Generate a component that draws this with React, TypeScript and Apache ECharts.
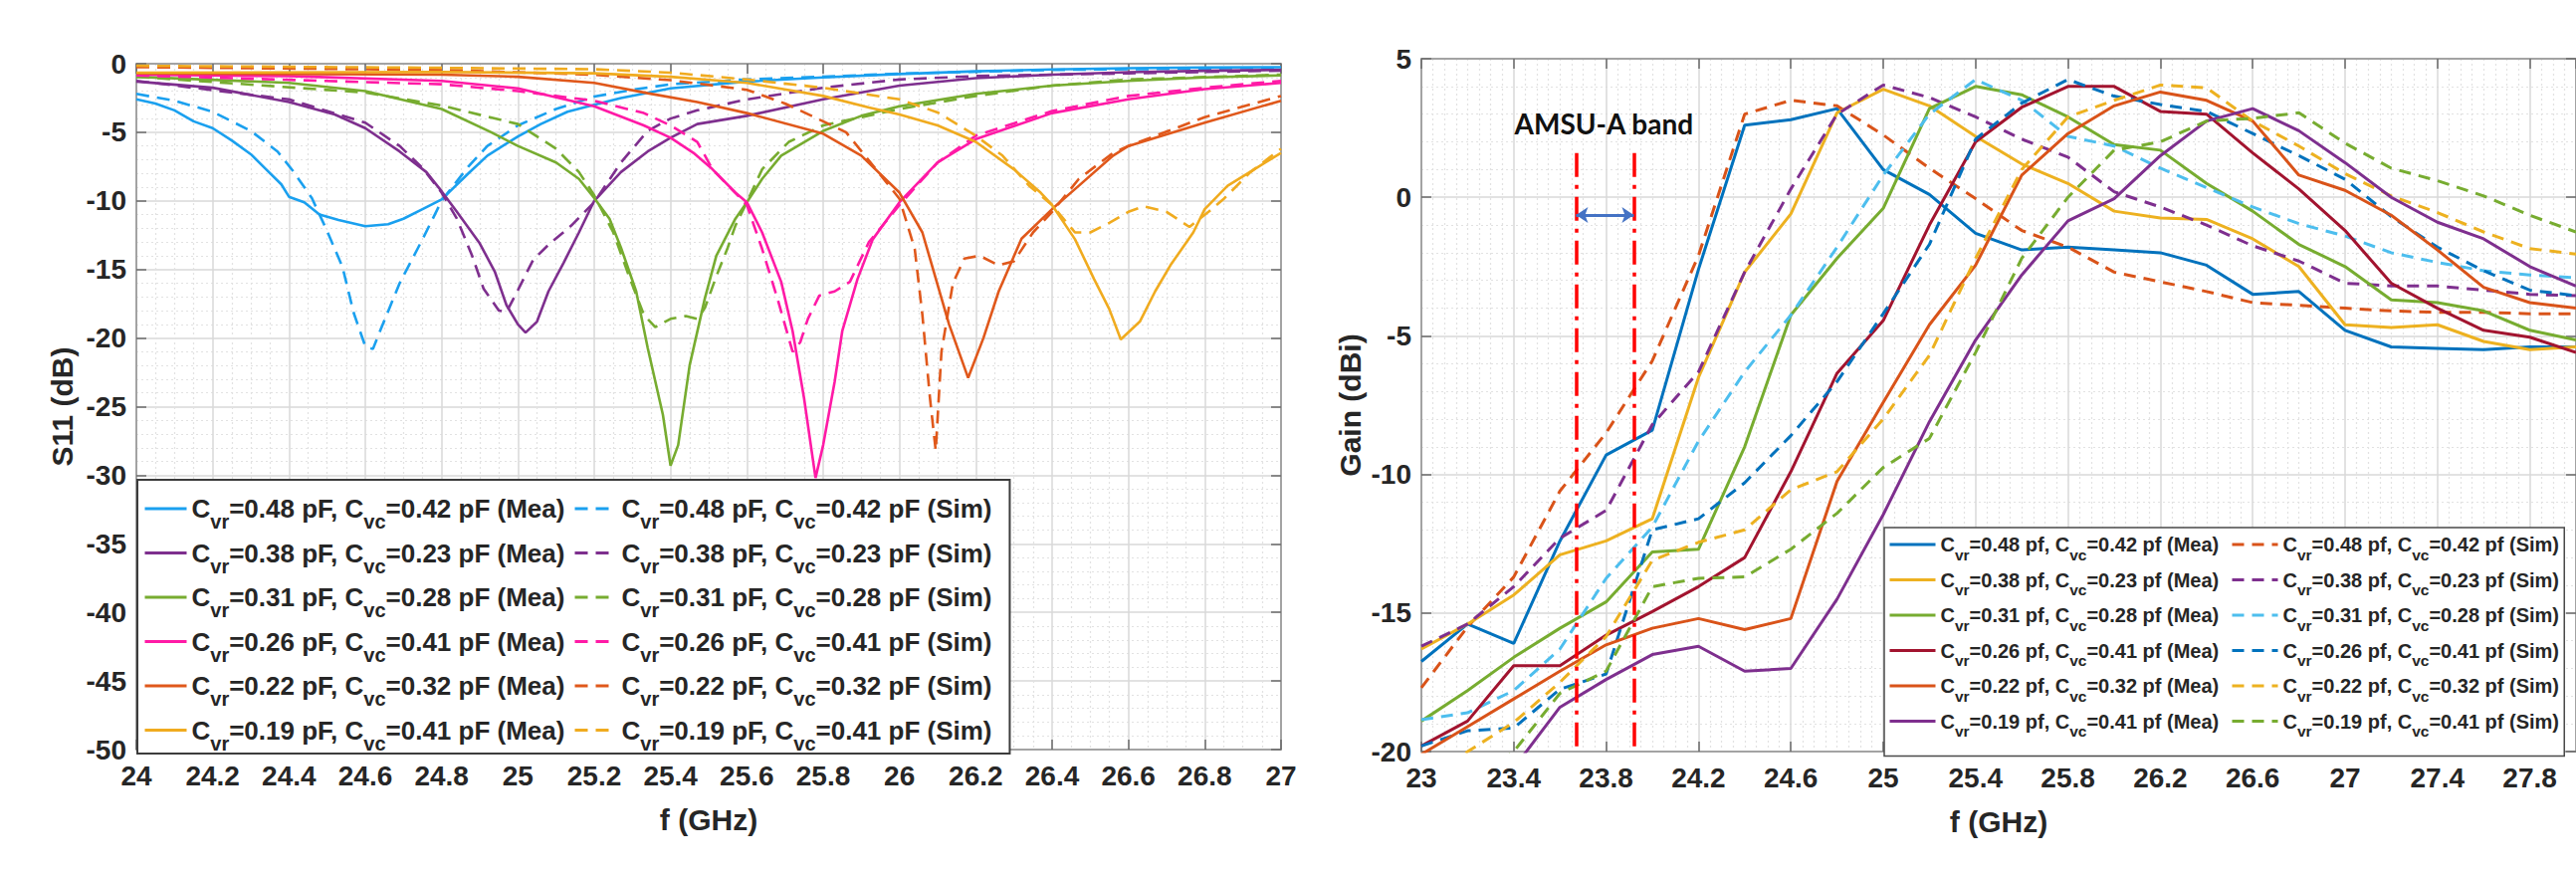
import React, { useEffect, useRef } from 'react';
import * as echarts from 'echarts';

const FONT = "'Liberation Sans', Arial, Helvetica, sans-serif";
const TXT = '#262626';

// ---------------- S11 chart (left) ----------------
const s11Names = [
  'Cvr=0.48 pF, Cvc=0.42 pF (Mea)', 'Cvr=0.48 pF, Cvc=0.42 pF (Sim)',
  'Cvr=0.38 pF, Cvc=0.23 pF (Mea)', 'Cvr=0.38 pF, Cvc=0.23 pF (Sim)',
  'Cvr=0.31 pF, Cvc=0.28 pF (Mea)', 'Cvr=0.31 pF, Cvc=0.28 pF (Sim)',
  'Cvr=0.26 pF, Cvc=0.41 pF (Mea)', 'Cvr=0.26 pF, Cvc=0.41 pF (Sim)',
  'Cvr=0.22 pF, Cvc=0.32 pF (Mea)', 'Cvr=0.22 pF, Cvc=0.32 pF (Sim)',
  'Cvr=0.19 pF, Cvc=0.41 pF (Mea)', 'Cvr=0.19 pF, Cvc=0.41 pF (Sim)',
];
const s11Colors = ['#1aa0ef', '#7e2f8e', '#77ac30', '#ff1aa6', '#e0581b', '#f0ab1f'];

const s11Mea048 = [[24.0,-2.6],[24.05,-2.9],[24.1,-3.4],[24.15,-4.2],[24.2,-4.7],[24.25,-5.6],[24.3,-6.6],[24.34,-7.7],[24.38,-8.8],[24.4,-9.7],[24.44,-10.1],[24.48,-11.0],[24.53,-11.4],[24.6,-11.85],[24.66,-11.7],[24.7,-11.3],[24.75,-10.6],[24.8,-9.9],[24.87,-8.0],[24.92,-6.7],[25.0,-5.3],[25.06,-4.4],[25.13,-3.5],[25.2,-3.0],[25.27,-2.5],[25.4,-1.8],[25.6,-1.3],[25.8,-1.0],[26.0,-0.75],[26.2,-0.55],[26.4,-0.42],[26.6,-0.33],[26.8,-0.27],[27.0,-0.25]];
const s11Sim048 = [[24.0,-2.2],[24.1,-2.7],[24.2,-3.5],[24.3,-4.9],[24.37,-6.4],[24.41,-7.8],[24.46,-9.8],[24.5,-12.2],[24.54,-14.8],[24.57,-18.2],[24.6,-20.6],[24.62,-20.8],[24.64,-19.4],[24.69,-16.0],[24.75,-12.8],[24.8,-10.0],[24.87,-7.5],[24.92,-6.0],[25.0,-4.5],[25.1,-3.3],[25.2,-2.4],[25.3,-1.9],[25.4,-1.5],[25.6,-1.15],[25.8,-0.95],[26.0,-0.72],[26.4,-0.45],[27.0,-0.3]];
const s11Mea038 = [[24.0,-1.3],[24.2,-1.75],[24.4,-2.8],[24.52,-3.7],[24.6,-4.7],[24.69,-6.4],[24.76,-7.9],[24.8,-9.3],[24.84,-10.8],[24.9,-13.1],[24.94,-15.2],[24.97,-17.6],[25.0,-19.0],[25.02,-19.6],[25.05,-18.8],[25.08,-16.6],[25.12,-14.5],[25.16,-12.3],[25.2,-10.0],[25.27,-7.9],[25.34,-6.4],[25.4,-5.4],[25.47,-4.4],[25.6,-3.8],[25.8,-2.6],[26.0,-1.6],[26.2,-1.05],[26.4,-0.8],[26.6,-0.62],[26.8,-0.52],[27.0,-0.45]];
const s11Sim038 = [[24.0,-1.25],[24.4,-2.6],[24.6,-4.3],[24.69,-6.0],[24.75,-7.6],[24.8,-9.4],[24.84,-11.3],[24.88,-14.0],[24.91,-16.4],[24.95,-18.0],[24.97,-18.1],[25.0,-16.5],[25.04,-14.3],[25.08,-13.2],[25.14,-11.8],[25.2,-10.1],[25.27,-7.2],[25.34,-4.9],[25.4,-4.0],[25.47,-3.4],[25.6,-2.6],[25.8,-1.75],[26.0,-1.15],[26.2,-0.9],[26.6,-0.7],[27.0,-0.5]];
const s11Mea031 = [[24.0,-0.95],[24.4,-1.4],[24.6,-2.0],[24.8,-3.3],[24.93,-5.0],[25.0,-6.0],[25.1,-7.2],[25.16,-8.4],[25.2,-9.8],[25.24,-11.3],[25.27,-13.4],[25.31,-16.6],[25.34,-20.7],[25.38,-25.6],[25.4,-29.3],[25.42,-27.8],[25.45,-22.0],[25.49,-17.1],[25.52,-14.0],[25.57,-11.3],[25.6,-10.1],[25.64,-8.4],[25.69,-6.7],[25.8,-4.9],[25.9,-3.8],[26.0,-3.1],[26.2,-2.2],[26.4,-1.6],[26.6,-1.25],[26.8,-1.0],[27.0,-0.85]];
const s11Sim031 = [[24.0,-0.95],[24.6,-2.1],[24.8,-3.05],[25.0,-4.4],[25.1,-6.2],[25.16,-7.9],[25.2,-9.6],[25.25,-12.3],[25.29,-15.4],[25.33,-18.3],[25.36,-19.2],[25.4,-18.6],[25.44,-18.4],[25.47,-18.6],[25.49,-17.8],[25.52,-15.5],[25.55,-13.4],[25.57,-11.8],[25.6,-10.1],[25.64,-7.7],[25.71,-5.7],[25.8,-4.5],[26.0,-3.3],[26.2,-2.35],[26.4,-1.6],[26.6,-1.15],[27.0,-0.8]];
const s11Mea026 = [[24.0,-0.8],[24.4,-0.9],[24.8,-1.25],[25.0,-1.8],[25.2,-3.1],[25.33,-4.5],[25.4,-5.4],[25.46,-6.5],[25.51,-7.7],[25.57,-9.4],[25.6,-10.1],[25.64,-12.3],[25.69,-15.9],[25.72,-19.5],[25.75,-24.4],[25.78,-30.2],[25.8,-27.8],[25.83,-23.2],[25.85,-19.5],[25.89,-15.7],[25.93,-12.8],[26.0,-10.1],[26.1,-7.2],[26.2,-5.5],[26.4,-3.6],[26.6,-2.6],[26.8,-1.85],[27.0,-1.4]];
const s11Sim026 = [[24.0,-0.85],[24.8,-1.5],[25.0,-2.0],[25.2,-2.7],[25.33,-3.6],[25.4,-4.5],[25.47,-5.7],[25.51,-7.7],[25.6,-10.3],[25.64,-13.5],[25.68,-17.1],[25.72,-21.0],[25.74,-20.3],[25.76,-18.6],[25.79,-16.9],[25.83,-16.6],[25.87,-15.9],[25.92,-13.0],[26.0,-10.3],[26.1,-7.2],[26.2,-5.25],[26.4,-3.45],[26.6,-2.35],[26.8,-1.75],[27.0,-1.25]];
const s11Mea022 = [[24.0,-0.7],[24.8,-0.8],[25.0,-0.95],[25.2,-1.4],[25.34,-2.15],[25.47,-2.8],[25.6,-3.6],[25.8,-5.1],[25.9,-6.7],[26.0,-9.4],[26.06,-12.3],[26.13,-19.0],[26.18,-22.9],[26.22,-20.0],[26.26,-16.6],[26.32,-12.75],[26.4,-10.6],[26.47,-8.9],[26.56,-6.7],[26.6,-6.0],[26.8,-4.3],[27.0,-2.7]];
const s11Sim022 = [[24.0,-0.25],[24.8,-0.45],[25.2,-0.8],[25.4,-1.2],[25.6,-1.9],[25.7,-2.9],[25.8,-4.2],[25.86,-5.0],[25.93,-7.4],[26.0,-9.85],[26.04,-13.5],[26.06,-18.3],[26.08,-24.4],[26.095,-28.2],[26.11,-21.0],[26.14,-16.0],[26.17,-14.2],[26.21,-14.0],[26.26,-14.7],[26.3,-14.4],[26.35,-12.3],[26.4,-10.8],[26.47,-8.4],[26.56,-6.5],[26.6,-6.0],[26.8,-3.9],[27.0,-2.35]];
const s11Mea019 = [[24.0,-0.65],[24.8,-0.6],[25.2,-0.7],[25.4,-0.95],[25.6,-1.4],[25.8,-2.35],[25.92,-3.2],[26.0,-3.7],[26.1,-4.5],[26.2,-5.7],[26.3,-7.7],[26.37,-9.4],[26.4,-10.3],[26.46,-12.8],[26.51,-15.7],[26.55,-17.9],[26.58,-20.1],[26.63,-18.8],[26.67,-16.6],[26.71,-14.7],[26.77,-12.3],[26.8,-10.6],[26.86,-8.9],[26.93,-7.7],[27.0,-6.5]];
const s11Sim019 = [[24.0,-0.15],[24.8,-0.3],[25.2,-0.4],[25.4,-0.65],[25.6,-1.15],[25.8,-1.75],[26.0,-2.6],[26.1,-3.55],[26.2,-5.25],[26.27,-6.7],[26.34,-8.9],[26.4,-10.3],[26.46,-12.3],[26.5,-12.3],[26.55,-11.6],[26.6,-10.8],[26.64,-10.4],[26.7,-10.8],[26.76,-11.9],[26.81,-10.8],[26.85,-9.85],[26.92,-7.9],[27.0,-6.2]];

const s11Data = [s11Mea048, s11Sim048, s11Mea038, s11Sim038, s11Mea031, s11Sim031, s11Mea026, s11Sim026, s11Mea022, s11Sim022, s11Mea019, s11Sim019];

// ---------------- Gain chart (right) ----------------
const gainNames = [
  'Cvr=0.48 pf, Cvc=0.42 pf (Mea)', 'Cvr=0.48 pf, Cvc=0.42 pf (Sim)',
  'Cvr=0.38 pf, Cvc=0.23 pf (Mea)', 'Cvr=0.38 pf, Cvc=0.23 pf (Sim)',
  'Cvr=0.31 pf, Cvc=0.28 pf (Mea)', 'Cvr=0.31 pf, Cvc=0.28 pf (Sim)',
  'Cvr=0.26 pf, Cvc=0.41 pf (Mea)', 'Cvr=0.26 pf, Cvc=0.41 pf (Sim)',
  'Cvr=0.22 pf, Cvc=0.32 pf (Mea)', 'Cvr=0.22 pf, Cvc=0.32 pf (Sim)',
  'Cvr=0.19 pf, Cvc=0.41 pf (Mea)', 'Cvr=0.19 pf, Cvc=0.41 pf (Sim)',
];
const gainMeaColors = ['#0072bd', '#edb120', '#77ac30', '#a2142f', '#d95319', '#7e2f8e'];
const gainSimColors = ['#d95319', '#7e2f8e', '#4dbeee', '#0072bd', '#edb120', '#77ac30'];

const gainFreq = [23, 23.2, 23.4, 23.6, 23.8, 24, 24.2, 24.4, 24.6, 24.8, 25, 25.2, 25.4, 25.6, 25.8, 26, 26.2, 26.4, 26.6, 26.8, 27, 27.2, 27.4, 27.6, 27.8, 28];
const gainMea048 = [-16.75, -15.4, -16.1, -12.4, -9.3, -8.4, -2.6, 2.6, 2.8, 3.2, 1.0, 0.1, -1.3, -1.9, -1.8, -1.9, -2.0, -2.45, -3.5, -3.4, -4.8, -5.4, -5.45, -5.5, -5.4, -5.4];
const gainMea038 = [-16.3, -15.4, -14.35, -12.9, -12.4, -11.6, -6.5, -2.7, -0.6, 3.05, 3.9, 3.3, 2.2, 1.2, 0.5, -0.5, -0.75, -0.8, -1.5, -2.5, -4.6, -4.7, -4.6, -5.2, -5.5, -5.4];
const gainMea031 = [-18.9, -17.8, -16.6, -15.55, -14.6, -12.8, -12.7, -9.0, -4.25, -2.2, -0.4, 3.2, 4.0, 3.7, 2.9, 1.9, 1.7, 0.5, -0.5, -1.7, -2.5, -3.7, -3.8, -4.1, -4.8, -5.15];
const gainMea026 = [-19.8, -18.9, -16.9, -16.9, -15.8, -14.95, -14.05, -13.0, -9.9, -6.35, -4.45, -1.0, 2.0, 3.25, 4.0, 4.0, 3.1, 3.0, 1.6, 0.3, -1.2, -3.1, -4.0, -4.8, -5.05, -5.6];
const gainMea022 = [-20.1, -19.1, -18.1, -17.1, -16.15, -15.55, -15.2, -15.6, -15.2, -10.25, -7.4, -4.6, -2.45, 0.8, 2.3, 3.3, 3.8, 3.5, 2.75, 0.8, 0.25, -0.65, -1.9, -3.25, -3.8, -4.0];
const gainMea019 = [-23.0, -21.8, -20.6, -18.4, -17.4, -16.5, -16.2, -17.1, -17.0, -14.5, -11.45, -8.1, -5.15, -2.8, -0.85, -0.05, 1.5, 2.75, 3.2, 2.4, 1.25, 0.0, -0.9, -1.5, -2.5, -3.2];
const gainSim048 = [-17.7, -15.5, -13.7, -10.6, -8.5, -5.9, -2.1, 3.0, 3.5, 3.3, 2.25, 1.05, -0.05, -1.2, -1.8, -2.7, -3.05, -3.4, -3.8, -3.9, -4.0, -4.1, -4.15, -4.15, -4.2, -4.2];
const gainSim038 = [-16.2, -15.4, -14.05, -12.3, -11.3, -8.2, -6.3, -2.7, 0.3, 3.0, 4.05, 3.6, 2.9, 2.1, 1.45, 0.2, -0.35, -1.0, -1.75, -2.3, -3.1, -3.2, -3.2, -3.35, -3.5, -3.55];
const gainSim031 = [-18.85, -18.6, -17.8, -16.3, -13.75, -11.9, -8.8, -6.3, -4.25, -1.8, 0.8, 3.0, 4.25, 3.5, 2.2, 1.85, 1.05, 0.35, -0.35, -0.95, -1.4, -2.0, -2.35, -2.65, -2.8, -2.9];
const gainSim026 = [-19.8, -19.25, -19.15, -17.75, -17.2, -12.0, -11.6, -10.3, -8.6, -6.65, -4.2, -1.7, 2.1, 3.4, 4.25, 3.65, 3.35, 3.1, 2.3, 1.5, 0.65, -0.7, -1.8, -2.65, -3.35, -3.55];
const gainSim022 = [-21.5, -20.0, -18.95, -17.5, -15.85, -13.1, -12.45, -12.0, -10.55, -9.9, -8.0, -5.7, -2.2, 1.0, 2.9, 3.5, 4.05, 3.95, 2.75, 1.85, 0.85, 0.05, -0.55, -1.25, -1.85, -2.05];
const gainSim019 = [-22.5, -21.2, -20.0, -17.9, -17.1, -14.05, -13.75, -13.7, -12.7, -11.4, -9.75, -8.7, -5.6, -2.2, 0.0, 1.7, 2.0, 2.75, 2.85, 3.05, 1.95, 1.05, 0.6, 0.05, -0.65, -1.25];

const gainData = [gainMea048, gainSim048, gainMea038, gainSim038, gainMea031, gainSim031, gainMea026, gainSim026, gainMea022, gainSim022, gainMea019, gainSim019];

// AMSU-A band annotation
const amsuLow = 23.67;
const amsuHigh = 23.92;
const amsuTop = 1.6;
const amsuArrowY = -0.64;

const fmtName = (name: string) => name.replace('Cvr', 'C{s|vr}').replace('Cvc', 'C{s|vc}');

function axisCommon(extra: any) {
  return {
    type: 'value',
    axisLine: { show: true, onZero: false, lineStyle: { color: '#a3a3a3', width: 2 } },
    axisTick: { show: true, inside: true, length: 10, lineStyle: { color: '#6a6a6a', width: 1.5 } },
    axisLabel: { fontSize: 28, fontWeight: 'bold', color: TXT, fontFamily: FONT, margin: 12 },
    splitLine: { show: true, lineStyle: { color: '#d9d9d9', width: 1.5 } },
    minorSplitLine: { show: true, lineStyle: { color: '#e2e2e2', width: 1.2, type: [2, 3] } },
    nameTextStyle: { fontSize: 30, fontWeight: 'bold', color: TXT, fontFamily: FONT },
    nameLocation: 'middle',
    ...extra,
  };
}
function boxAxis(extra: any) {
  return {
    type: 'value',
    axisLine: { show: true, onZero: false, lineStyle: { color: '#a3a3a3', width: 2 } },
    axisTick: { show: true, inside: true, length: 10, lineStyle: { color: '#6a6a6a', width: 1.5 } },
    axisLabel: { show: false },
    splitLine: { show: false },
    ...extra,
  };
}

function legendCol(names: string[], big: boolean, extra: any) {
  const fs = big ? 26 : 20;
  const lh = big ? 35 : 24;
  return {
    data: names, orient: 'vertical',
    itemWidth: big ? 42 : 46, itemHeight: 12, itemGap: big ? 4 : 5.5,
    selectedMode: false, formatter: fmtName,
    lineStyle: { width: 3 },
    itemStyle: { opacity: 0, color: 'rgba(0,0,0,0)', borderWidth: 0 },
    textStyle: {
      fontSize: fs, fontWeight: 'bold', fontFamily: FONT, color: TXT, lineHeight: lh,
      rich: { s: { fontSize: big ? 20 : 15.5, fontWeight: 'bold', fontFamily: FONT, color: TXT, verticalAlign: 'bottom', height: big ? 9 : 4, lineHeight: lh } },
    },
    ...extra,
  };
}

export default function App() {
  const ref = useRef<HTMLDivElement>(null);
  useEffect(() => {
    document.body.style.margin = '0';
    if (!ref.current) return;
    const chart = echarts.init(ref.current, undefined, { renderer: 'svg' });

    const series: any[] = [];
    s11Data.forEach((d, i) => {
      const sim = i % 2 === 1;
      const c = s11Colors[Math.floor(i / 2)];
      series.push({
        name: s11Names[i], type: 'line', xAxisIndex: 0, yAxisIndex: 0,
        data: d, symbol: 'none', showSymbol: false, clip: true,
        color: c,
        lineStyle: { color: c, width: 2.6, type: sim ? [13, 8] : 'solid' },
      });
    });
    gainData.forEach((vals, i) => {
      const sim = i % 2 === 1;
      const c = sim ? gainSimColors[Math.floor(i / 2)] : gainMeaColors[Math.floor(i / 2)];
      const s: any = {
        name: gainNames[i], type: 'line', xAxisIndex: 2, yAxisIndex: 2,
        data: gainFreq.map((f, k) => [f, vals[k]]), symbol: 'none', showSymbol: false, clip: true,
        color: c,
        lineStyle: { color: c, width: 3, type: sim ? [12, 8] : 'solid' },
      };
      if (i === 0) {
        s.markLine = {
          silent: true, symbol: ['none', 'none'], label: { show: false }, animation: false,
          emphasis: { disabled: true },
          data: [
            [{ coord: [amsuLow, amsuTop], lineStyle: { color: '#ff0000', width: 3.5, type: [24, 8, 4, 8] } }, { coord: [amsuLow, -20] }],
            [{ coord: [amsuHigh, amsuTop], lineStyle: { color: '#ff0000', width: 3.5, type: [24, 8, 4, 8] } }, { coord: [amsuHigh, -20] }],
            [{ coord: [amsuLow, amsuArrowY], symbol: 'arrow', symbolSize: [12, 12], lineStyle: { color: '#4472c4', width: 3, type: 'solid' } },
             { coord: [amsuHigh, amsuArrowY], symbol: 'arrow', symbolSize: [12, 12] }],
          ],
        };
        s.markPoint = {
          silent: true, symbol: 'circle', symbolSize: 1, animation: false,
          itemStyle: { color: 'rgba(0,0,0,0)' },
          label: { show: true, position: 'inside', formatter: 'AMSU-A band', fontSize: 28, fontWeight: 'bold', color: '#111', fontFamily: "Lato, 'Liberation Sans', sans-serif" },
          data: [{ coord: [23.79, 2.65] }],
        };
      }
      series.push(s);
    });

    const s11Mea = s11Names.filter((_, i) => i % 2 === 0);
    const s11Sim = s11Names.filter((_, i) => i % 2 === 1);
    const gainMea = gainNames.filter((_, i) => i % 2 === 0);
    const gainSim = gainNames.filter((_, i) => i % 2 === 1);

    const option: any = {
      animation: false,
      textStyle: { fontFamily: FONT },
      grid: [
        { left: 137, top: 64, width: 1150, height: 689 },
        { left: 1428, top: 59, width: 1165, height: 696 },
      ],
      xAxis: [
        axisCommon({ gridIndex: 0, min: 24, max: 27, interval: 0.2, position: 'bottom', name: 'f (GHz)', nameGap: 55, minorTick: { show: false, splitNumber: 4 } }),
        boxAxis({ gridIndex: 0, min: 24, max: 27, interval: 0.2, position: 'top' }),
        axisCommon({ gridIndex: 1, min: 23, max: 28, interval: 0.4, position: 'bottom', name: 'f (GHz)', nameGap: 55, minorTick: { show: false, splitNumber: 8 }, axisLabel: { fontSize: 28, fontWeight: 'bold', color: TXT, fontFamily: FONT, margin: 12, showMaxLabel: false } }),
        boxAxis({ gridIndex: 1, min: 23, max: 28, interval: 0.4, position: 'top' }),
      ],
      yAxis: [
        axisCommon({ gridIndex: 0, min: -50, max: 0, interval: 5, position: 'left', name: 'S11 (dB)', nameGap: 60, minorTick: { show: false, splitNumber: 5 }, axisLabel: { fontSize: 28, fontWeight: 'bold', color: TXT, fontFamily: FONT, margin: 10 } }),
        boxAxis({ gridIndex: 0, min: -50, max: 0, interval: 5, position: 'right' }),
        axisCommon({ gridIndex: 1, min: -20, max: 5, interval: 5, position: 'left', name: 'Gain (dBi)', nameGap: 57, minorTick: { show: false, splitNumber: 5 }, axisLabel: { fontSize: 28, fontWeight: 'bold', color: TXT, fontFamily: FONT, margin: 10 } }),
        boxAxis({ gridIndex: 1, min: -20, max: 5, interval: 5, position: 'right' }),
      ],
      legend: [
        // left chart: Mea column carries the white box covering both columns
        legendCol(s11Mea, true, {
          left: 138, top: 482, padding: [11.5, 447, 0.5, 6],
          backgroundColor: '#ffffff', borderColor: '#3c3c3c', borderWidth: 2, borderRadius: 0,
        }),
        legendCol(s11Sim, true, { left: 576, top: 482, padding: [11.5, 0, 0, 0] }),
        // right chart
        legendCol(gainMea, false, {
          left: 1893, top: 530, padding: [5, 347, 17, 4],
          backgroundColor: '#ffffff', borderColor: '#4a4a4a', borderWidth: 1.5, borderRadius: 0,
        }),
        legendCol(gainSim, false, { left: 2241, top: 530, padding: [5, 0, 0, 0] }),
      ],
      series,
    };
    chart.setOption(option);
    return () => chart.dispose();
  }, []);
  return <div ref={ref} style={{ width: 2588, height: 876 }} />;
}
